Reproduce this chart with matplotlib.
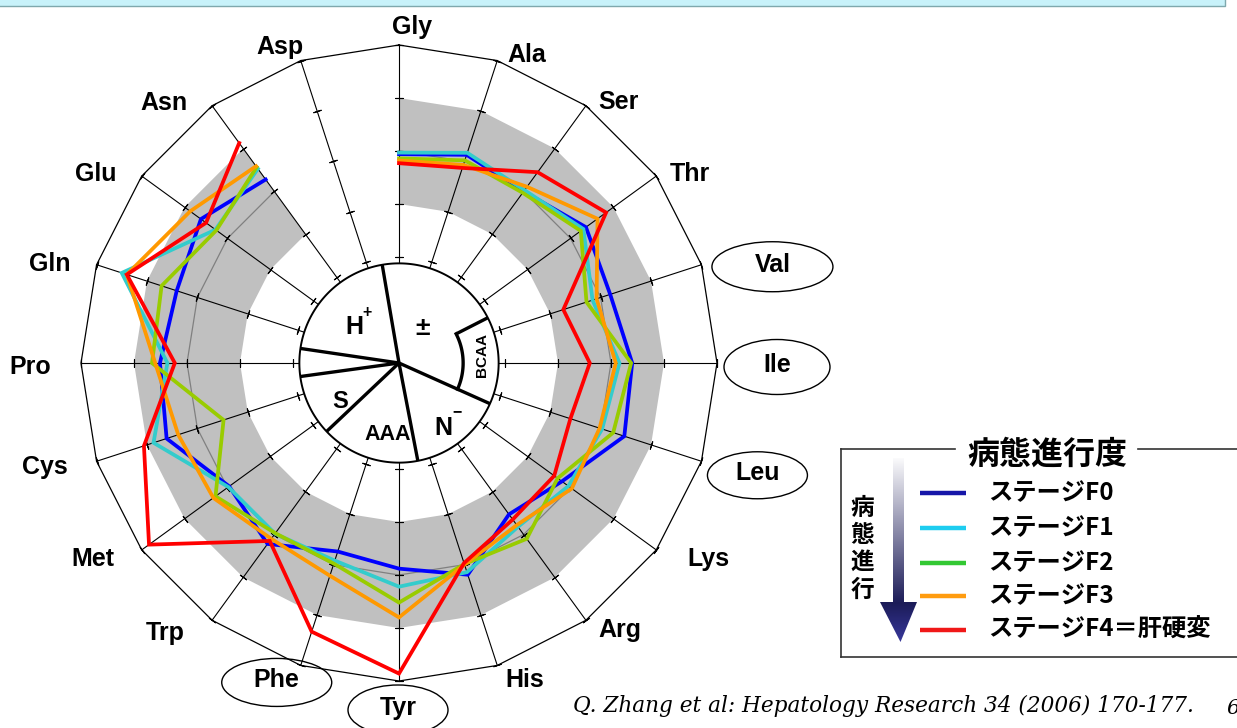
import numpy as np
import matplotlib.pyplot as plt
from matplotlib.patches import Ellipse, Polygon, Rectangle
from matplotlib.colors import LinearSegmentedColormap

W, H = 1237, 728

amino = ['Gly', 'Ala', 'Ser', 'Thr', 'Val', 'Ile', 'Leu', 'Lys', 'Arg', 'His',
         'Tyr', 'Phe', 'Trp', 'Met', 'Cys', 'Pro', 'Gln', 'Glu', 'Asn', 'Asp']
circled = {'Val': (121, 50), 'Ile': (106, 55), 'Leu': (100, 47),
           'Phe': (110, 48), 'Tyr': (100, 50)}

stage_labels = ['ステージF0', 'ステージF1', 'ステージF2', 'ステージF3',
                'ステージF4＝肝硬変']

# radial scale 0..4 (2 = reference level); values Gly -> Asn, Asp not measured
f0 = [1.94, 2.13, 2.00, 2.36, 2.19, 2.40, 2.47, 1.80, 1.53, 2.20,
      1.88, 1.74, 2.22, 1.96, 2.61, 2.51, 2.41, 2.62, 2.28]
f1 = [1.97, 2.17, 2.03, 2.30, 1.84, 2.16, 2.03, 1.95, 1.82, 2.15,
      2.22, 1.92, 1.98, 1.98, 2.87, 2.37, 3.50, 2.28, 2.53]
f2 = [1.86, 2.02, 1.97, 2.24, 1.72, 2.38, 2.25, 1.70, 2.10, 1.99,
      2.52, 1.98, 1.97, 2.28, 1.48, 2.66, 2.71, 2.26, 2.57]
f3 = [1.82, 1.93, 2.11, 2.63, 1.92, 2.09, 1.98, 2.03, 1.78, 2.00,
      2.80, 2.22, 2.10, 2.33, 2.38, 2.60, 3.40, 2.87, 2.59]
f4 = [1.77, 1.87, 2.45, 2.83, 1.26, 1.60, 1.40, 1.62, 1.65, 1.97,
      3.86, 3.33, 2.15, 3.83, 3.06, 2.23, 3.40, 2.50, 3.13]
series = [f0, f1, f2, f3, f4]

band_lo, band_hi = 1.0, 3.0
ref_level = 2.0
r_ticks = [0, 1, 2, 3, 4]

line_colors = ['#0000ff', '#33cccc', '#99cc00', '#ff9900', '#ff0000']
legend_colors = ['#1616a8', '#1ecdf0', '#33c833', '#ff9c10', '#f01818']

LAB = ['Liberation Sans Narrow', 'DejaVu Sans Condensed', 'Liberation Sans',
       'DejaVu Sans']
JP = ['Noto Sans CJK JP', 'DejaVu Sans']

fig = plt.figure(figsize=(W / 100, H / 100), dpi=100)
fig.patch.set_facecolor('white')

# radar in a polar axes, centre (cx, cy) px, outer radius R px
cx, cy, R = 399, 363, 318
ax = fig.add_axes([(cx - R) / W, (H - cy - R) / H, 2 * R / W, 2 * R / H],
                  projection='polar')
ax.set_theta_zero_location('N')
ax.set_theta_direction(-1)
ax.set_ylim(-2, 4)
ax.axis('off')

n_ax = len(amino)
th = np.arange(n_ax) * 2 * np.pi / n_ax
n = len(f0)
INNER = -0.12

# normal range band and reference line (Gly .. Asn only)
band_th = np.concatenate([th[:n], th[:n][::-1]])
band_r = np.concatenate([np.full(n, band_hi), np.full(n, band_lo)])
ax.fill(band_th, band_r, color='#c0c0c0', lw=0, zorder=1, clip_on=False)
ax.plot(th[:n], np.full(n, ref_level), color='#808080', lw=0.9, zorder=2,
        clip_on=False)

# spokes, outer polygon, ticks
for i in range(n_ax):
    ax.plot([th[i], th[i]], [INNER, 4], color='k', lw=0.8, zorder=3,
            clip_on=False)
    phi = 90 - 360 * i / n_ax
    ax.plot(np.full(len(r_ticks), th[i]), r_ticks, ls='none',
            marker=(2, 2, phi), ms=6, mew=0.8, color='k', zorder=3,
            clip_on=False)
ax.plot(np.append(th, th[0]), np.full(n_ax + 1, 4), color='k', lw=0.9,
        zorder=3, clip_on=False)

# stage lines
for vals, c in zip(series, line_colors):
    ax.plot(th[:len(vals)], vals, color=c, lw=2.7, zorder=4,
            solid_joinstyle='miter', clip_on=False)

# inner classification disc
tt = np.linspace(0, 2 * np.pi, 361)
ax.fill(tt, np.full(tt.size, INNER), facecolor='white', edgecolor='black',
        lw=1.4, zorder=5, clip_on=False)
for b in [350.3, 278.4, 262.2, 226.6, 169.1, 114.1]:
    ax.plot([np.radians(b), np.radians(b)], [-2, INNER], color='k', lw=2.4,
            zorder=6, clip_on=False, solid_capstyle='butt')
r_bcaa = -0.79
ax.plot([np.radians(63), np.radians(63)], [r_bcaa, INNER], color='k', lw=2.4,
        zorder=6, clip_on=False, solid_capstyle='butt')
arc = np.radians(np.linspace(63, 114.1, 60))
ax.plot(arc, np.full(arc.size, r_bcaa), color='k', lw=2.4, zorder=6,
        clip_on=False)

# overlay in pixel units for labels and legend
ov = fig.add_axes([0, 0, 1, 1], zorder=10)
ov.set_xlim(0, W)
ov.set_ylim(H, 0)
ov.axis('off')

kw = dict(family=LAB, weight='bold', ha='center', va='center')
ov.text(354, 327, 'H', fontsize=18, **kw)
ov.text(367, 312, '+', fontsize=11.5, **kw)
ov.text(423, 328, '±', fontsize=19, **kw)
ov.text(482, 355, 'BCAA', fontsize=11, rotation=90, **kw)
ov.text(443, 428, 'N', fontsize=18, **kw)
ov.text(457, 412, '−', fontsize=11.5, **kw)
ov.text(388, 434, 'AAA', fontsize=15.5, **kw)
ov.text(340, 402, 'S', fontsize=17, **kw)

# amino acid labels, offset from each outer vertex
lab_off = [(13, -18), (29, -6), (33, -4), (34, -2), (71, 0), (60, 2),
           (56, 12), (52, 9), (34, 10), (27, 15), (-1, 27), (-24, 15),
           (-47, 13), (-49, 9), (-52, 6), (-51, 4), (-47, -1), (-46, -2),
           (-48, -3), (-21, -14)]
for i, name in enumerate(amino):
    vx = cx + R * np.sin(th[i])
    vy = cy - R * np.cos(th[i])
    lx, ly = vx + lab_off[i][0], vy + lab_off[i][1]
    ov.text(lx, ly, name, fontsize=18, **kw)
    if name in circled:
        ew, eh = circled[name]
        ov.add_patch(Ellipse((lx, ly + 2), ew, eh, fc='none', ec='black',
                             lw=1.0))

# top strip
ov.add_patch(Rectangle((-5, -5), 1230, 11, fc='#c8f2fa', ec='#7fa8ad', lw=1))

# legend frame with title breaking the top edge
lc = '#333333'
ov.plot([841, 841], [449, 657], color=lc, lw=1.2)
ov.plot([841, 1245], [657, 657], color=lc, lw=1.2)
ov.plot([841, 955], [449, 449], color=lc, lw=1.2)
ov.plot([1138, 1245], [449, 449], color=lc, lw=1.2)
ov.text(1047, 455, '病態進行度', family=JP, weight='bold', fontsize=23,
        ha='center', va='center')
leg_y = [493, 528, 563, 596, 630]
for y, c, s in zip(leg_y, legend_colors, stage_labels):
    ov.plot([920, 966], [y, y], color=c, lw=3.2, solid_capstyle='butt')
    ov.text(988, y, s, family=JP, weight='bold', fontsize=17.5, ha='left',
            va='center')
for y, ch in zip([508, 535, 562, 590], '病態進行'):
    ov.text(862, y, ch, family=JP, weight='bold', fontsize=17, ha='center',
            va='center')

# gradient arrow
cmap = LinearSegmentedColormap.from_list(
    'arrow', [(0, 'white'), (0.78, '#1c1c58'), (1, '#3a3aa0')])
grad = np.linspace(0, 1, 256)[:, None]
im = ov.imshow(grad, cmap=cmap, extent=(876, 922, 645, 455), aspect='auto',
               origin='upper', zorder=11)
arrow = Polygon([(893, 458), (904, 458), (904, 602), (917, 602),
                 (900.5, 642), (880, 602), (893, 602)], closed=True,
                transform=ov.transData)
im.set_clip_path(arrow)
ov.set_xlim(0, W)
ov.set_ylim(H, 0)

ov.text(573, 706, 'Q. Zhang et al: Hepatology Research 34 (2006) 170-177.',
        family='DejaVu Serif', style='italic', fontsize=15.6, ha='left',
        va='center')
ov.text(1226, 708, '6', family='DejaVu Serif', style='italic', fontsize=15,
        ha='left', va='center')

fig.savefig('out.png', dpi=100)
